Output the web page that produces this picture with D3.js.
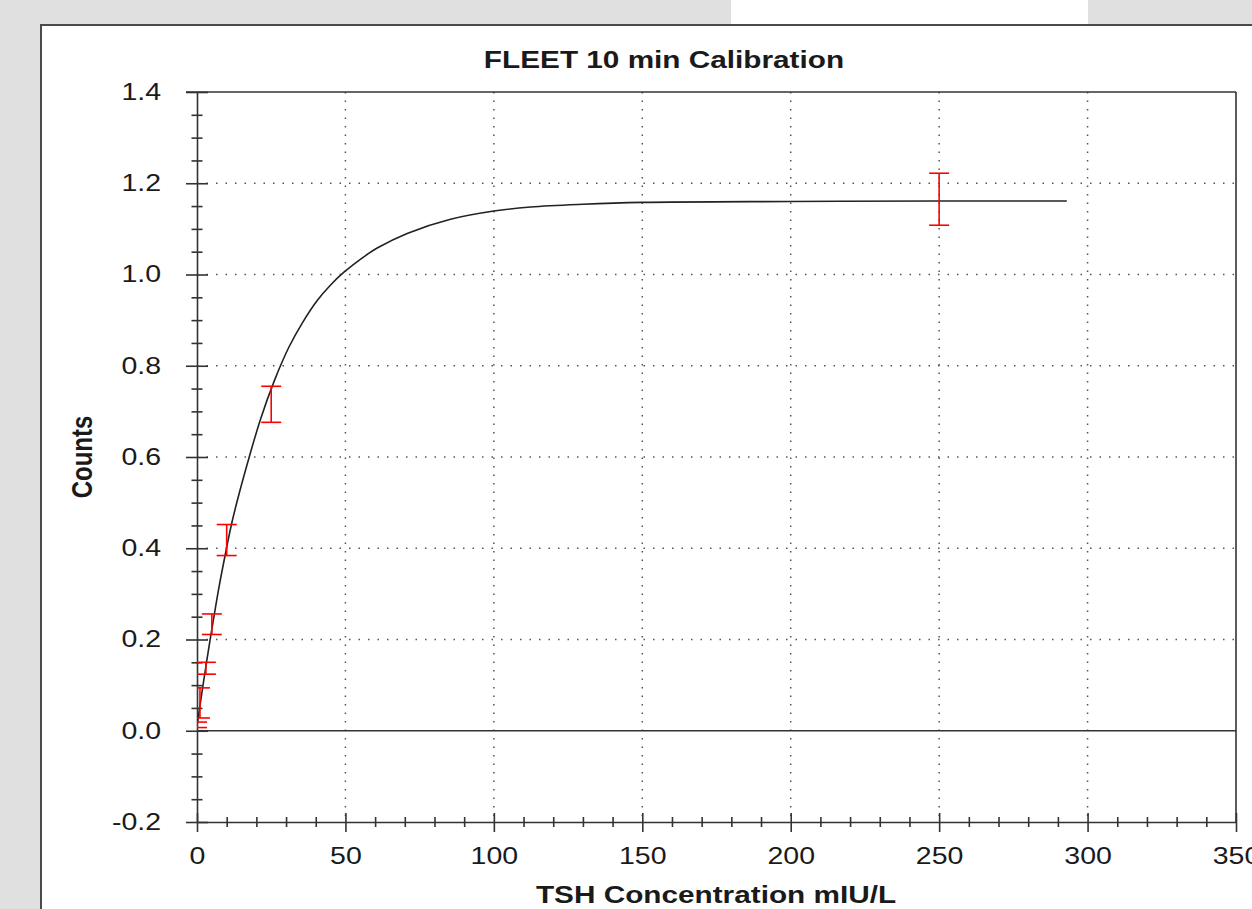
<!doctype html>
<html lang="en">
<head>
<meta charset="utf-8">
<title>FLEET 10 min Calibration</title>
<script src="https://d3js.org/d3.v7.min.js"></script>
<style>
  body { margin: 0; background: #e0e0e0; }
  svg { display: block; }
  text { font-family: "Liberation Sans", Arial, sans-serif; fill: #1a1a1a; }
</style>
</head>
<body>
<div id="chart"></div>
<script>
// tick values
var xMajorTicks = [0, 50, 100, 150, 200, 250, 300, 350];
var yMajorTicks = [-0.2, 0.0, 0.2, 0.4, 0.6, 0.8, 1.0, 1.2, 1.4];

// calibrators: concentration and error bar ends
var calConc = [0, 1, 3, 5, 10, 25, 250];
var calLow  = [0.007, 0.028, 0.124, 0.211, 0.384, 0.676, 1.108];
var calHigh = [0.019, 0.094, 0.150, 0.256, 0.452, 0.755, 1.222];

// fitted curve
var fitConc   = [0, 1, 2.5, 4.3, 5.4, 7.5, 10.1, 11.6, 14, 17.6, 21.4, 26.1, 30.9, 35.4, 40.5, 45, 49.5, 56.9, 60.7, 70.8, 85.4, 100, 112.4, 130, 150, 200, 250, 293];
var fitCounts = [0.01, 0.055, 0.12, 0.195, 0.238, 0.318, 0.405, 0.452, 0.515, 0.6, 0.683, 0.768, 0.84, 0.893, 0.943, 0.977, 1.005, 1.042, 1.058, 1.09, 1.121, 1.139, 1.148, 1.154, 1.158, 1.16, 1.161, 1.161];

var W = 1252, H = 909;
var stretch = 1.24; // the screenshot is a bit wide

var svg = d3.select("#chart").append("svg")
    .attr("width", W)
    .attr("height", H);

// page background bits
svg.append("rect").attr("x", 0).attr("y", 0).attr("width", W).attr("height", H).attr("fill", "#e0e0e0");
svg.append("rect").attr("x", 731).attr("y", 0).attr("width", 357).attr("height", 26).attr("fill", "#ffffff");
// white panel
svg.append("rect").attr("x", 41).attr("y", 25).attr("width", W).attr("height", H)
    .attr("fill", "#ffffff").attr("stroke", "#4a4a4a").attr("stroke-width", 2);

var x = d3.scaleLinear().domain([0, 350]).range([197, 1236]);
var y = d3.scaleLinear().domain([-0.2, 1.4]).range([822, 92]);

svg.append("defs").append("clipPath").attr("id", "plot-clip")
  .append("rect").attr("x", 197).attr("y", 92).attr("width", 1236 - 197).attr("height", 822 - 92);

// dotted grid
var grid = svg.append("g").attr("class", "grid");
grid.selectAll("line.gx")
    .data(xMajorTicks.filter(function(d) { return d > 0 && d < 350; }))
    .enter().append("line")
    .attr("x1", function(d) { return x(d); }).attr("x2", function(d) { return x(d); })
    .attr("y1", y(1.4)).attr("y2", y(-0.2))
    .attr("stroke", "#555").attr("stroke-width", 1.5).attr("stroke-dasharray", "1.5,7");
grid.selectAll("line.gy")
    .data(yMajorTicks.filter(function(d) { return d > 0 && d < 1.4; }))
    .enter().append("line")
    .attr("y1", function(d) { return y(d); }).attr("y2", function(d) { return y(d); })
    .attr("x1", x(0)).attr("x2", x(350))
    .attr("stroke", "#555").attr("stroke-width", 1.5).attr("stroke-dasharray", "1.5,8");

// frame top / right and zero line
svg.append("line").attr("x1", 186).attr("x2", x(350)).attr("y1", y(1.4)).attr("y2", y(1.4))
    .attr("stroke", "#333").attr("stroke-width", 1.6);
svg.append("line").attr("x1", x(350)).attr("x2", x(350)).attr("y1", y(1.4)).attr("y2", y(-0.2))
    .attr("stroke", "#333").attr("stroke-width", 1.6);
svg.append("line").attr("x1", x(0)).attr("x2", x(350)).attr("y1", y(0)).attr("y2", y(0))
    .attr("stroke", "#333").attr("stroke-width", 1.6);

// y axis
var yMinor = d3.range(-0.2, 1.4001, 0.05).filter(function(v) { return Math.abs(Math.round(v * 5) - v * 5) > 0.01; });
var yAxisG = svg.append("g").attr("transform", "translate(" + x(0) + ",0)")
    .call(d3.axisLeft(y).tickValues(yMajorTicks).tickSize(11).tickSizeOuter(0).tickPadding(18)
        .tickFormat(function(d) { return d.toFixed(1); }));
yAxisG.selectAll(".tick line").attr("x1", -11).attr("x2", 11);
yAxisG.selectAll(".tick text")
    .attr("font-size", 23).attr("font-family", "Liberation Sans, Arial, sans-serif").attr("fill", "#1a1a1a")
    .attr("transform", "scale(" + stretch + ",1)");
var yMinorG = svg.append("g").attr("transform", "translate(" + x(0) + ",0)")
    .call(d3.axisLeft(y).tickValues(yMinor).tickSize(5.5).tickSizeOuter(0).tickFormat(""));
yMinorG.selectAll(".tick line").attr("x1", -5.5).attr("x2", 5.5);
yMinorG.select(".domain").remove();

// x axis
var xMinor = d3.range(0, 351, 10).filter(function(v) { return v % 50 !== 0; });
var xAxisG = svg.append("g").attr("transform", "translate(0," + y(-0.2) + ")")
    .call(d3.axisBottom(x).tickValues(xMajorTicks).tickSize(9).tickSizeOuter(0).tickFormat(d3.format("d")));
xAxisG.selectAll(".tick line").attr("y1", -9).attr("y2", 10);
xAxisG.selectAll(".tick text")
    .attr("y", 42).attr("dy", 0)
    .attr("font-size", 23).attr("font-family", "Liberation Sans, Arial, sans-serif").attr("fill", "#1a1a1a")
    .attr("transform", "scale(" + stretch + ",1)");
var xMinorG = svg.append("g").attr("transform", "translate(0," + y(-0.2) + ")")
    .call(d3.axisBottom(x).tickValues(xMinor).tickSize(5).tickSizeOuter(0).tickFormat(""));
xMinorG.selectAll(".tick line").attr("y1", -5).attr("y2", 5);
xMinorG.select(".domain").remove();

svg.selectAll(".domain, .tick line").attr("stroke", "#333").attr("stroke-width", 1.6);

// fitted curve
var fitData = fitConc.map(function(c, i) { return [c, fitCounts[i]]; });
var line = d3.line()
    .x(function(d) { return x(d[0]); })
    .y(function(d) { return y(d[1]); })
    .curve(d3.curveCatmullRom.alpha(0.5));
var plot = svg.append("g").attr("clip-path", "url(#plot-clip)");
plot.append("path").datum(fitData)
    .attr("d", line)
    .attr("fill", "none").attr("stroke", "#222").attr("stroke-width", 1.6);

// error bars
var cal = calConc.map(function(c, i) { return { c: c, lo: calLow[i], hi: calHigh[i] }; });
var bars = plot.selectAll("g.err").data(cal).enter().append("g").attr("class", "err")
    .attr("stroke", "#ff0000").attr("stroke-width", 1.6);
bars.append("line")
    .attr("x1", function(d) { return x(d.c); }).attr("x2", function(d) { return x(d.c); })
    .attr("y1", function(d) { return y(d.lo); }).attr("y2", function(d) { return y(d.hi); });
bars.append("line")
    .attr("x1", function(d) { return x(d.c) - 10; }).attr("x2", function(d) { return x(d.c) + 10; })
    .attr("y1", function(d) { return y(d.hi); }).attr("y2", function(d) { return y(d.hi); });
bars.append("line")
    .attr("x1", function(d) { return x(d.c) - 10; }).attr("x2", function(d) { return x(d.c) + 10; })
    .attr("y1", function(d) { return y(d.lo); }).attr("y2", function(d) { return y(d.lo); });

// titles
svg.append("text")
    .attr("transform", "translate(664,68) scale(" + stretch + ",1)")
    .attr("text-anchor", "middle").attr("font-size", 24).attr("font-weight", "bold")
    .text("FLEET 10 min Calibration");
svg.append("text")
    .attr("transform", "translate(716,903) scale(" + stretch + ",1)")
    .attr("text-anchor", "middle").attr("font-size", 24).attr("font-weight", "bold")
    .text("TSH Concentration mIU/L");
svg.append("text")
    .attr("transform", "translate(92,457) scale(" + stretch + ",1) rotate(-90)")
    .attr("text-anchor", "middle").attr("font-size", 24).attr("font-weight", "bold")
    .text("Counts");
</script>
</body>
</html>
